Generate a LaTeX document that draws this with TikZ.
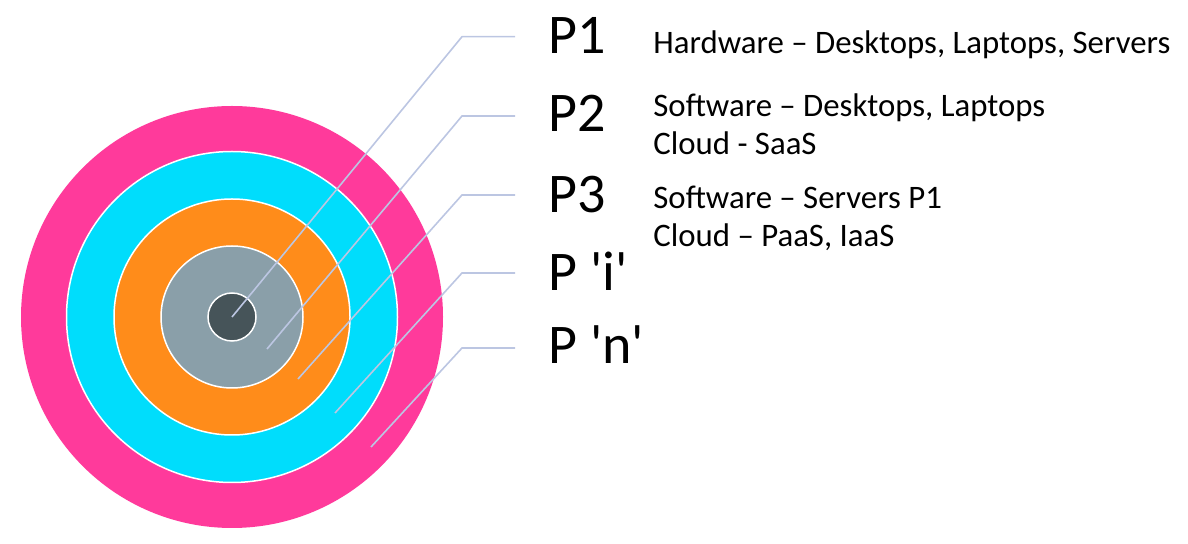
\documentclass[tikz,border=0pt]{standalone}
\usepackage{fontspec}
\setmainfont{Carlito}
\usepackage{xcolor}
\usetikzlibrary{positioning}
\definecolor{ringpink}{HTML}{FF3A9B}
\definecolor{ringcyan}{HTML}{00DDFC}
\definecolor{ringorange}{HTML}{FF8C1A}
\definecolor{ringgray}{HTML}{8A9FA9}
\definecolor{ringdark}{HTML}{465459}
\definecolor{leadgray}{HTML}{BCC6E2}
\tikzset{
    ring/.style={circle, draw=white, line width=0.75pt, inner sep=0pt, minimum size=#1},
    leader/.style={draw=leadgray, line width=0.8pt},
    plabel/.style={anchor=base west, inner xsep=16.5pt, inner ysep=0pt, font=\fontsize{28}{30}\selectfont},
    desc/.style={anchor=base west, inner sep=0pt, align=left, font=\fontsize{16.4}{19}\selectfont},
}
\begin{document}
\begin{tikzpicture}[x=0.5pt, y=-0.5pt]
    \useasboundingbox (0,0) rectangle (1188,544);

    % Rings
    \coordinate (ctr) at (232,317);
    \node[ring=211pt, draw=none, fill=ringpink] (pn) at (ctr) {};
    \node[ring=165.5pt, fill=ringcyan] (pi) at (ctr) {};
    \node[ring=118pt, fill=ringorange] (pthree) at (ctr) {};
    \node[ring=71pt, fill=ringgray] (ptwo) at (ctr) {};
    \node[ring=24pt, fill=ringdark] (pone) at (ctr) {};

    % Labels
    \node[plabel] (p1) at (515,53.3) {P1};
    \node[plabel] (p2) at (515,131.5) {P2};
    \node[plabel] (p3) at (515,213) {P3};
    \node[plabel] (p4) at (515,290.7) {P \textquotesingle i\textquotesingle};
    \node[plabel] (p5) at (515,363.3) {P \textquotesingle n\textquotesingle};

    % multi-line nodes sit on the baseline of their last line
    \node[desc] (d1) at (653,53.3) {Hardware – Desktops, Laptops, Servers};
    \node[desc] (d2) at (653,155) {Software – Desktops, Laptops\\Cloud - SaaS};
    \node[desc] (d3) at (653,247) {Software – Servers P1\\Cloud – PaaS, IaaS};

    % Leaders
    \coordinate (c1) at (232,317);  \coordinate (e1) at (462,36.7);
    \coordinate (c2) at (267,349);  \coordinate (e2) at (462,116);
    \coordinate (c3) at (298,379);  \coordinate (e3) at (462,195);
    \coordinate (c4) at (335,413);  \coordinate (e4) at (462,273);
    \coordinate (c5) at (371,447);  \coordinate (e5) at (462,348);
    \draw[leader] (c1) -- (e1) -- (e1 -| p1.west);
    \draw[leader] (c2) -- (e2) -- (e2 -| p2.west);
    \draw[leader] (c3) -- (e3) -- (e3 -| p3.west);
    \draw[leader] (c4) -- (e4) -- (e4 -| p4.west);
    \draw[leader] (c5) -- (e5) -- (e5 -| p5.west);

\end{tikzpicture}
\end{document}
